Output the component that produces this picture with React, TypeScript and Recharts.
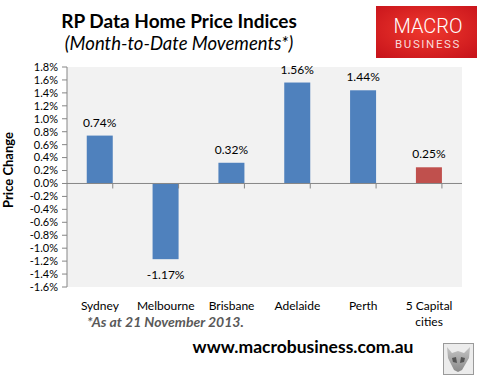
import React from "react";
import {
  Bar,
  BarChart,
  CartesianGrid,
  Cell,
  LabelList,
  ReferenceLine,
  Text,
  XAxis,
  YAxis,
} from "recharts";

// RP Data month-to-date movements, as at 21 November 2013
const categories = ["Sydney", "Melbourne", "Brisbane", "Adelaide", "Perth", "5 Capital cities"];
const priceChange = [0.74, -1.17, 0.32, 1.56, 1.44, 0.25];
const yTicks = [1.8, 1.6, 1.4, 1.2, 1.0, 0.8, 0.6, 0.4, 0.2, 0, -0.2, -0.4, -0.6, -0.8, -1.0, -1.2, -1.4, -1.6];

const data = categories.map((name, i) => ({ name, value: priceChange[i] }));

const FONT = "Lato, 'Open Sans', sans-serif";
const AXIS_GRAY = "#868686";
const BLUE = "#4f81bd";
const RED = "#c0504d";

// bar rect plus the little category-boundary tick hanging off the zero line
const BarWithTick = (props: any) => {
  const { x, y, width, height, fill, background } = props;
  const top = Math.min(y, y + height);
  const h = Math.abs(height);
  const val = props.payload?.value ?? 0;
  const zeroY = val >= 0 ? top + h : top;
  const bandRight = background
    ? background.x + background.width
    : x + (width / 0.4) * 0.7;
  return (
    <g>
      <rect x={x} y={top} width={width} height={h} fill={fill} />
      <line x1={bandRight} x2={bandRight} y1={zeroY} y2={zeroY + 5} stroke={AXIS_GRAY} />
    </g>
  );
};

const renderValueLabel = (props: any) => {
  const { x, y, width, height, value } = props;
  const top = Math.min(y, y + height);
  const bottom = Math.max(y, y + height);
  const ty = value >= 0 ? top - 9 : bottom + 20;
  return (
    <text x={x + width / 2} y={ty} textAnchor="middle" fontSize={12} fill="#000" fontFamily={FONT}>
      {value.toFixed(2)}%
    </text>
  );
};

const CategoryTick = (props: any) => {
  const { x, y, payload } = props;
  return (
    <Text
      x={x}
      y={y + 14}
      width={62}
      textAnchor="middle"
      verticalAnchor="start"
      lineHeight="1.35em"
      fontSize={12}
      fill="#000"
      fontFamily={FONT}
    >
      {payload.value}
    </Text>
  );
};

export default function App() {
  return (
    <div style={{ position: "relative", width: 482, height: 375, background: "#fff", overflow: "hidden" }}>
      <style>{`body{margin:0}`}</style>
      <BarChart
        width={482}
        height={375}
        data={data}
        margin={{ top: 67, right: 20, bottom: 58, left: 17 }}
        barCategoryGap="30%"
        style={{ position: "absolute", left: 0, top: 0 }}
      >
        <CartesianGrid fill="#f2f2f2" horizontal={false} vertical={false} />
        <XAxis
          dataKey="name"
          height={30}
          axisLine={false}
          tickLine={false}
          tickSize={0}
          tickMargin={0}
          interval={0}
          tick={<CategoryTick />}
        />
        <YAxis
          width={50}
          domain={[-1.6, 1.8]}
          ticks={yTicks}
          interval={0}
          allowDataOverflow
          axisLine={{ stroke: AXIS_GRAY }}
          tickLine={{ stroke: AXIS_GRAY }}
          tickSize={5}
          tickMargin={4}
          tick={{ fontSize: 11, fill: "#000", fontFamily: FONT }}
          tickFormatter={(v: number) => `${v.toFixed(1)}%`}
        />
        <Bar dataKey="value" isAnimationActive={false} shape={<BarWithTick />}>
          {data.map((d, i) => (
            <Cell key={d.name} fill={i === data.length - 1 ? RED : BLUE} />
          ))}
          <LabelList dataKey="value" content={renderValueLabel} />
        </Bar>
        <ReferenceLine y={0} stroke={AXIS_GRAY} />
      </BarChart>

      {/* titles, logo and footer */}
      <svg
        width={482}
        height={375}
        style={{ position: "absolute", left: 0, top: 0, pointerEvents: "none" }}
      >
        <defs>
          <radialGradient id="logoRed" cx="50%" cy="45%" r="70%">
            <stop offset="0%" stopColor="#f0392e" />
            <stop offset="100%" stopColor="#c8141b" />
          </radialGradient>
          <linearGradient id="wolf" x1="0" y1="0" x2="0" y2="1">
            <stop offset="0%" stopColor="#c4c4c4" />
            <stop offset="100%" stopColor="#8a8a8a" />
          </linearGradient>
        </defs>

        <text x={179} y={28} textAnchor="middle" fontFamily={FONT} fontWeight="bold" fontSize={19} fill="#000">
          RP Data Home Price Indices
        </text>
        <text x={179} y={50} textAnchor="middle" fontFamily={FONT} fontStyle="italic" fontSize={18.5} fill="#000">
          (Month-to-Date Movements*)
        </text>

        <rect x={376} y={6} width={101} height={52} fill="url(#logoRed)" />
        <text x={428} y={33} textAnchor="middle" fontFamily="Roboto, sans-serif" fontWeight={300} fontSize={20} fill="#fff">
          MACRO
        </text>
        <text x={428} y={48} textAnchor="middle" fontFamily="Roboto, sans-serif" fontSize={11.5} letterSpacing={1.6} fill="#f8dada">
          BUSINESS
        </text>

        <text
          x={13}
          y={170}
          transform="rotate(-90 13 170)"
          textAnchor="middle"
          fontFamily={FONT}
          fontWeight="bold"
          fontSize={13}
          fill="#000"
        >
          Price Change
        </text>

        <text x={87} y={327} fontFamily={FONT} fontWeight="bold" fontStyle="italic" fontSize={14} fill="#595959">
          *As at 21 November 2013.
        </text>
        <text x={303} y={353} textAnchor="middle" fontFamily={FONT} fontWeight="bold" fontSize={17.5} fill="#000">
          www.macrobusiness.com.au
        </text>

        {/* wolf thumbnail */}
        <rect x={443.5} y={343.5} width={30} height={31} fill="#ececec" stroke="#9a9a9a" />
        <polygon
          points="447,347 452,353 458,351 464,353 470,347 469,358 462,370 458,372 454,370 448,358"
          fill="url(#wolf)"
        />
        <polygon points="452,358 456,357 457,363 453,362" fill="#555" />
        <polygon points="461,357 465,358 464,362 460,363" fill="#555" />
      </svg>
    </div>
  );
}
